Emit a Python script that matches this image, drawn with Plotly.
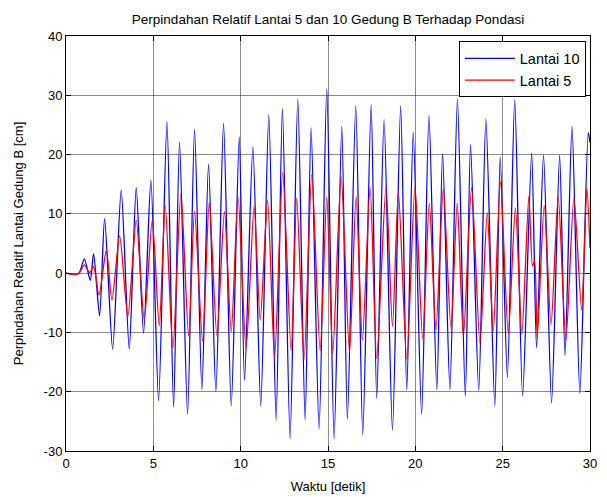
import plotly.graph_objects as go

# Lantai 10 (blue) - extrema
t_l10 = [0, 0.5, 0.75, 1.05, 1.39, 1.58, 1.92, 2.21, 2.67, 3.16, 3.62, 4.02, 4.44, 4.86, 5.30, 5.78,
         6.16, 6.50, 6.96, 7.36, 7.78, 8.16, 8.58, 9.02, 9.46, 9.92, 10.22, 10.70, 11.15, 11.61,
         12.03, 12.39, 12.83, 13.27, 13.69, 14.03, 14.49, 14.93, 15.35, 15.79, 16.11, 16.59, 16.99,
         17.47, 17.79, 18.21, 18.69, 19.16, 19.51, 19.88, 20.36, 20.78, 21.23, 21.56, 21.98, 22.41,
         22.86, 23.16, 23.63, 24.04, 24.55, 24.86, 25.27, 25.69, 26.14, 26.66, 26.94, 27.34, 27.80,
         28.26, 28.57, 28.97, 29.42, 29.90, 30.0]
v_l10 = [0, -0.2, 0, 2.4, -1.2, 3.3, -7.2, 9.2, -12.8, 14.0, -12.8, 14.4, -10.1, 15.7, -21.5, 25.6,
         -22.6, 22.1, -23.8, 24.3, -19.7, 18.4, -20.0, 25.3, -22.4, 23.0, -18.1, 21.3, -22.4, 26.7,
         -24.8, 27.8, -27.9, 29.4, -24.8, 24.5, -26.3, 31.1, -28.0, 24.8, -24.6, 28.2, -27.3,
         28.4, -21.1, 25.9, -26.5, 28.2, -19.7, 23.8, -23.8, 26.6, -19.7, 20.2, -19.7, 29.4,
         -20.8, 21.7, -19.8, 26.0, -22.4, 19.6, -17.6, 29.3, -20.7, 20.3, -12.6, 19.9, -21.9,
         19.9, -13.9, 24.8, -20.3, 23.7, 22.0]

# Lantai 5 (red)
t_l5 = [0, 0.5, 0.75, 1.05, 1.35, 1.58, 1.89, 2.31, 2.63, 3.07, 3.54, 4.02, 4.48, 4.94, 5.34, 5.68,
        6.12, 6.58, 7.02, 7.36, 7.82, 8.20, 8.64, 9.07, 9.46, 9.85, 10.31, 10.77, 11.12, 11.54,
        11.94, 12.41, 12.89, 13.21, 13.63, 14.07, 14.55, 14.93, 15.27, 15.75, 16.23, 16.61, 16.97,
        17.41, 17.79, 18.32, 18.69, 19.03, 19.51, 19.98, 20.42, 20.80, 21.18, 21.60, 22.04, 22.40,
        22.75, 23.22, 23.70, 24.12, 24.46, 24.87, 25.32, 25.73, 26.10, 26.50, 26.71, 26.83, 26.98,
        27.38, 27.77, 28.18, 28.62, 29.08, 29.52, 29.82, 30.0]
v_l5 = [0, -0.2, 0, 1.4, 0.1, 1.1, -3.7, 3.9, -4.6, 6.3, -7.3, 8.9, -7.9, 8.9, -8.9, 11.4,
        -12.7, 13.4, -10.6, 10.4, -11.5, 11.9, -10.6, 10.4, -9.9, 12.9, -12.8, 11.3, -7.9, 12.3,
        -14.4, 17.0, -13.1, 12.7, -14.6, 16.6, -13.1, 12.9, -13.6, 16.3, -13.3, 12.9, -11.3,
        14.5, -14.4, 14.6, -9.0, 13.7, -14.5, 14.6, -11.0, 11.8, -9.6, 14.2, -9.3, 11.8,
        -10.7, 14.4, -11.8, 10.2, -9.8, 15.4, -10.2, 11.0, -10.3, 13.0, 1.2, 2.1, -10.9,
        11.4, -8.7, 12.9, -11.3, 12.7, -6.2, 14.4, 4.2]

x_ticks = [0, 5, 10, 15, 20, 25, 30]
y_ticks = [-30, -20, -10, 0, 10, 20, 30, 40]

FONT = "Liberation Sans, Arial, sans-serif"

fig = go.Figure()
fig.add_trace(go.Scatter(x=t_l10, y=v_l10, mode="lines", name="Lantai 10",
                         line=dict(color="#0000ff", width=1.3, shape="spline", smoothing=0.7)))
fig.add_trace(go.Scatter(x=t_l5, y=v_l5, mode="lines", name="Lantai 5",
                         line=dict(color="#ff0000", width=1.3, shape="spline", smoothing=0.7)))

axis_common = dict(showline=True, linecolor="black", linewidth=1, mirror="allticks",
                   ticks="inside", ticklen=5, tickcolor="black", showgrid=True,
                   gridcolor="rgba(0,0,0,0.45)", gridwidth=1, zeroline=False, automargin=False,
                   tickfont=dict(family=FONT, size=13, color="black"))

fig.update_xaxes(range=[0, 30], tickvals=x_ticks, ticktext=[str(v) for v in x_ticks],
                 title=dict(text="Waktu [detik]", font=dict(family=FONT, size=13, color="black"),
                            standoff=12),
                 **axis_common)
fig.update_yaxes(range=[-30, 40], tickvals=y_ticks, ticktext=[str(v) for v in y_ticks],
                 title=dict(text="Perpindahan Relatif Lantai Gedung B [cm]",
                            font=dict(family=FONT, size=13, color="black"), standoff=17),
                 **axis_common)

fig.update_layout(
    width=599, height=489,
    margin=dict(l=58, r=17, t=28, b=46, autoexpand=False),
    paper_bgcolor="white", plot_bgcolor="white",
    title=dict(text="Perpindahan Relatif Lantai 5 dan 10 Gedung B Terhadap Pondasi",
               font=dict(family=FONT, size=13.5, color="black"),
               xref="paper", x=0.5, xanchor="center", y=0.977, yanchor="middle"),
    legend=dict(x=0.992, y=0.987, xanchor="right", yanchor="top",
                bgcolor="white", bordercolor="black", borderwidth=1,
                font=dict(family=FONT, size=14.5, color="black"),
                tracegroupgap=0, itemwidth=50),
    showlegend=True,
)

fig.write_html("out.html")
